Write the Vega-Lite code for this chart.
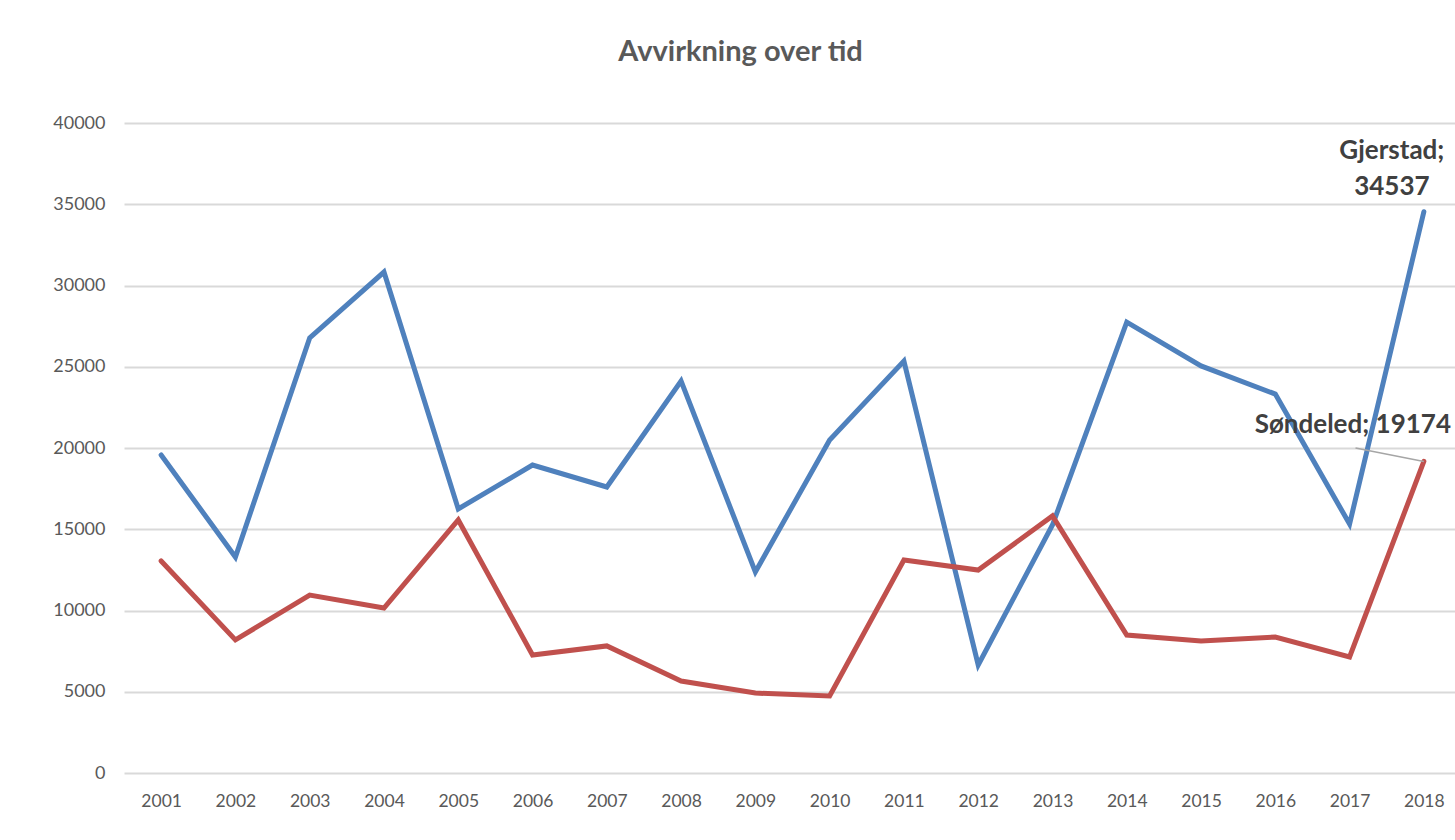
{
  "$schema": "https://vega.github.io/schema/vega-lite/v6.json",
  "width": 1337,
  "height": 650,
  "autosize": {"type": "none"},
  "padding": {"left": 124, "top": 123, "right": 0, "bottom": 67},
  "background": "white",
  "title": {
    "text": "Avvirkning over tid",
    "font": "Lato",
    "fontSize": 29,
    "fontWeight": "bold",
    "color": "#595959",
    "anchor": "middle",
    "dx": -52,
    "offset": 47
  },
  "config": {
    "view": {"stroke": null},
    "font": "Lato"
  },
  "datasets": {
    "series": [
      {"year": 2001, "serie": "Gjerstad", "value": 19570},
      {"year": 2002, "serie": "Gjerstad", "value": 13290},
      {"year": 2003, "serie": "Gjerstad", "value": 26770},
      {"year": 2004, "serie": "Gjerstad", "value": 30830},
      {"year": 2005, "serie": "Gjerstad", "value": 16250},
      {"year": 2006, "serie": "Gjerstad", "value": 18950},
      {"year": 2007, "serie": "Gjerstad", "value": 17600},
      {"year": 2008, "serie": "Gjerstad", "value": 24120},
      {"year": 2009, "serie": "Gjerstad", "value": 12370},
      {"year": 2010, "serie": "Gjerstad", "value": 20490},
      {"year": 2011, "serie": "Gjerstad", "value": 25350},
      {"year": 2012, "serie": "Gjerstad", "value": 6650},
      {"year": 2013, "serie": "Gjerstad", "value": 15260},
      {"year": 2014, "serie": "Gjerstad", "value": 27750},
      {"year": 2015, "serie": "Gjerstad", "value": 25050},
      {"year": 2016, "serie": "Gjerstad", "value": 23320},
      {"year": 2017, "serie": "Gjerstad", "value": 15320},
      {"year": 2018, "serie": "Gjerstad", "value": 34537},
      {"year": 2001, "serie": "Søndeled", "value": 13050},
      {"year": 2002, "serie": "Søndeled", "value": 8190},
      {"year": 2003, "serie": "Søndeled", "value": 10950},
      {"year": 2004, "serie": "Søndeled", "value": 10150},
      {"year": 2005, "serie": "Søndeled", "value": 15570},
      {"year": 2006, "serie": "Søndeled", "value": 7260},
      {"year": 2007, "serie": "Søndeled", "value": 7820},
      {"year": 2008, "serie": "Søndeled", "value": 5660},
      {"year": 2009, "serie": "Søndeled", "value": 4920},
      {"year": 2010, "serie": "Søndeled", "value": 4740},
      {"year": 2011, "serie": "Søndeled", "value": 13110},
      {"year": 2012, "serie": "Søndeled", "value": 12490},
      {"year": 2013, "serie": "Søndeled", "value": 15820},
      {"year": 2014, "serie": "Søndeled", "value": 8490},
      {"year": 2015, "serie": "Søndeled", "value": 8120},
      {"year": 2016, "serie": "Søndeled", "value": 8370},
      {"year": 2017, "serie": "Søndeled", "value": 7140},
      {"year": 2018, "serie": "Søndeled", "value": 19174}
    ],
    "leader": [
      {"year": 2017.08, "value": 20000},
      {"year": 2018, "value": 19174}
    ],
    "labels": [
      {"year": 2018, "value": 34537, "serie": "Gjerstad", "label": ["Gjerstad;", "34537"]},
      {"year": 2018, "value": 19174, "serie": "Søndeled", "label": ["Søndeled; 19174"]}
    ]
  },
  "layer": [
    {
      "data": {"name": "series"},
      "mark": {"type": "line", "strokeWidth": 5, "strokeCap": "round", "strokeJoin": "miter"},
      "encoding": {
        "x": {
          "field": "year", "type": "quantitative",
          "scale": {"domain": [2000.5, 2018.5], "nice": false, "zero": false},
          "axis": {
            "values": [2001,2002,2003,2004,2005,2006,2007,2008,2009,2010,2011,2012,2013,2014,2015,2016,2017,2018],
            "format": "d", "title": null, "grid": false, "ticks": false,
            "domain": false,
            "labelFont": "Lato", "labelFontSize": 17.5, "labelColor": "#595959",
            "labelPadding": 19
          }
        },
        "y": {
          "field": "value", "type": "quantitative",
          "scale": {"domain": [0, 40000], "nice": false},
          "axis": {
            "values": [0,5000,10000,15000,20000,25000,30000,35000,40000],
            "format": "d", "title": null, "ticks": false, "domain": false,
            "grid": true, "gridColor": "#D9D9D9", "gridWidth": 2,
            "labelFont": "Lato", "labelFontSize": 18, "labelColor": "#595959",
            "labelPadding": 19
          }
        },
        "color": {
          "field": "serie", "type": "nominal",
          "scale": {"domain": ["Gjerstad", "Søndeled"], "range": ["#4F81BD", "#C0504D"]},
          "legend": null
        }
      }
    },
    {
      "data": {"name": "leader"},
      "mark": {"type": "line", "stroke": "#A6A6A6", "strokeWidth": 1.5},
      "encoding": {
        "x": {"field": "year", "type": "quantitative"},
        "y": {"field": "value", "type": "quantitative"}
      }
    },
    {
      "data": {"name": "labels"},
      "transform": [{"filter": "datum.serie == 'Gjerstad'"}],
      "mark": {"type": "text", "font": "Lato", "fontSize": 26, "fontWeight": "bold", "color": "#404040", "align": "center", "baseline": "top", "dx": -32, "dy": -74, "lineHeight": 36},
      "encoding": {
        "x": {"field": "year", "type": "quantitative"},
        "y": {"field": "value", "type": "quantitative"},
        "text": {"field": "label"}
      }
    },
    {
      "data": {"name": "labels"},
      "transform": [{"filter": "datum.serie == 'Søndeled'"}],
      "mark": {"type": "text", "font": "Lato", "fontSize": 26, "fontWeight": "bold", "color": "#404040", "align": "center", "baseline": "middle", "dx": -71, "dy": -36},
      "encoding": {
        "x": {"field": "year", "type": "quantitative"},
        "y": {"field": "value", "type": "quantitative"},
        "text": {"field": "label"}
      }
    }
  ]
}
